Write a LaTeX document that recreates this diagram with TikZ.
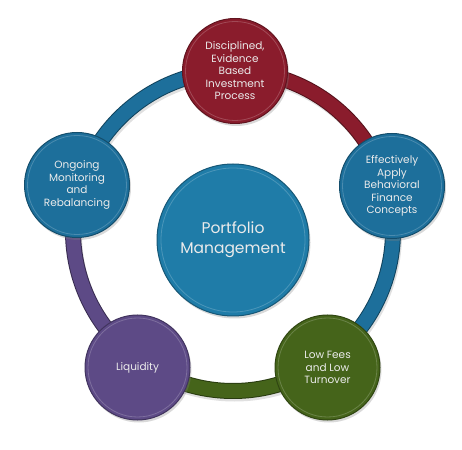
\documentclass[tikz,border=0pt]{standalone}
\usepackage{fontspec}
\setmainfont{Poppins}
\usetikzlibrary{shadows}
\definecolor{cred}{HTML}{8A1C2C}
\definecolor{cblue}{HTML}{1D6F9B}
\definecolor{cgreen}{HTML}{45641A}
\definecolor{cpurple}{HTML}{5D4A86}
\definecolor{ccenter}{HTML}{1F7CA8}
\begin{document}
\begin{tikzpicture}[x=1pt,y=1pt,
  ball/.style={circle, fill=#1, draw=#1!70!black, line width=1pt,
    minimum size=105pt, inner sep=0pt, text=white!92!black, align=center,
    font=\fontsize{10.5}{12.5}\selectfont,
    drop shadow={shadow xshift=1.5pt, shadow yshift=-2.5pt, opacity=0.3}},
  seg/.style={line width=14pt, draw=#1},
  segedge/.style={line width=16pt, draw=#1!60!black},
  rim/.style={draw=white, opacity=0.2, line width=0.8pt},
]
\useasboundingbox (0,0) rectangle (462,449);
\coordinate (o) at (233,218);
\path (o) ++(90:160) coordinate (a1);
\path (o) ++(18:160) coordinate (a2);
\path (o) ++(-54:160) coordinate (a3);
\path (o) ++(-126:160) coordinate (a4);
\path (o) ++(162:160) coordinate (a5);
% ring shadow
\draw[line width=15pt, black, opacity=0.12] ([shift={(1.5,-3)}]o) circle[radius=160];
% ring segments
\draw[segedge=cred] (a1) arc[start angle=90, end angle=18, radius=160];
\draw[segedge=cblue] (a2) arc[start angle=18, end angle=-54, radius=160];
\draw[segedge=cgreen] (a3) arc[start angle=-54, end angle=-126, radius=160];
\draw[segedge=cpurple] (a4) arc[start angle=-126, end angle=-198, radius=160];
\draw[segedge=cblue] (a5) arc[start angle=162, end angle=90, radius=160];
\draw[seg=cred] (a1) arc[start angle=90, end angle=18, radius=160];
\draw[seg=cblue] (a2) arc[start angle=18, end angle=-54, radius=160];
\draw[seg=cgreen] (a3) arc[start angle=-54, end angle=-126, radius=160];
\draw[seg=cpurple] (a4) arc[start angle=-126, end angle=-198, radius=160];
\draw[seg=cblue] (a5) arc[start angle=162, end angle=90, radius=160];
% circles
\node[ball=cred] (top) at (235,378) {Disciplined,\\Evidence\\Based\\Investment\\Process};
\node[ball=cblue] (right) at (392,263) {Effectively\\Apply\\Behavioral\\Finance\\Concepts};
\node[ball=cgreen] (fees) at (327.5,81.5) {Low Fees\\and Low\\Turnover};
\node[ball=cpurple] (liq) at (137.5,81.5) {Liquidity};
\node[ball=cblue] (mon) at (77,264) {Ongoing\\Monitoring\\and\\Rebalancing};
\node[ball=ccenter, minimum size=152pt, font=\fontsize{15.5}{20}\selectfont] (pm) at (233,209) {Portfolio\\Management};
% rims
\foreach \n in {top,right,fees,liq,mon}{\draw[rim] (\n) circle[radius=49.5];}
\draw[rim] (pm) circle[radius=72];
\end{tikzpicture}
\end{document}
